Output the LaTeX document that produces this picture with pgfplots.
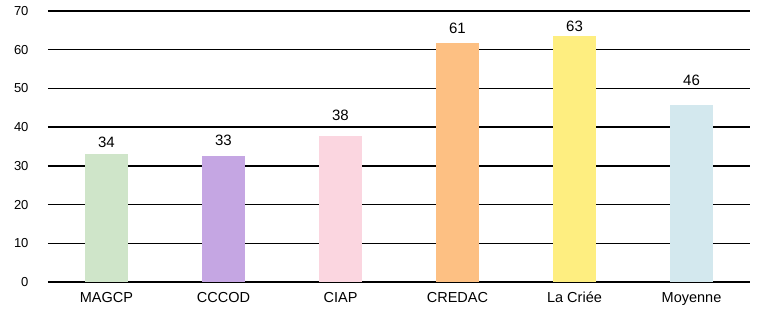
\documentclass[border=0pt]{standalone}
\usepackage{pgfplots}
\pgfplotsset{compat=1.18}
\usepackage{fontspec}
\setmainfont{Liberation Sans}
\definecolor{cA}{HTML}{CFE5C9}
\definecolor{cB}{HTML}{C5A6E3}
\definecolor{cC}{HTML}{FBD6E0}
\definecolor{cD}{HTML}{FDC083}
\definecolor{cE}{HTML}{FEEE80}
\definecolor{cF}{HTML}{D3E8EE}
\begin{document}
\begin{tikzpicture}
\begin{axis}[
  scale only axis,
  width=702pt, height=271pt,
  xmin=-0.5, xmax=5.5,
  ymin=0, ymax=70,
  ytick={0,10,...,70},
  xtick={0,1,2,3,4,5},
  xticklabels={MAGCP,CCCOD,CIAP,CREDAC,La Criée,Moyenne},
  axis line style={draw=none},
  major tick length=0pt,
  ymajorgrids,
  major grid style={black, line width=1.4pt},
  tick label style={font=\fontsize{13}{15}\selectfont},
  xticklabel style={font=\fontsize{14.5}{16}\selectfont, text height=11pt, text depth=3pt, yshift=-6pt},
  yticklabel style={xshift=-16pt},
  /pgf/number format/assume math mode=true,
  ybar, bar width=43pt, bar shift=0pt,
  nodes near coords,
  point meta=explicit symbolic,
  every node near coord/.append style={font=\fontsize{15}{17}\selectfont, black, anchor=south},
  clip=false,
]
\addplot[fill=cA, draw=none, nodes near coords style={yshift=3pt}] coordinates {(0,33.1) [34]};
\addplot[fill=cB, draw=none, nodes near coords style={yshift=7pt}] coordinates {(1,32.6) [33]};
\addplot[fill=cC, draw=none, nodes near coords style={yshift=12pt}] coordinates {(2,37.7) [38]};
\addplot[fill=cD, draw=none, nodes near coords style={yshift=6pt}] coordinates {(3,61.8) [61]};
\addplot[fill=cE, draw=none, nodes near coords style={yshift=1pt}] coordinates {(4,63.6) [63]};
\addplot[fill=cF, draw=none, nodes near coords style={yshift=16pt}] coordinates {(5,45.7) [46]};
\end{axis}
\useasboundingbox (-48pt,-33pt) rectangle (721pt,282pt);
\end{tikzpicture}
\end{document}
